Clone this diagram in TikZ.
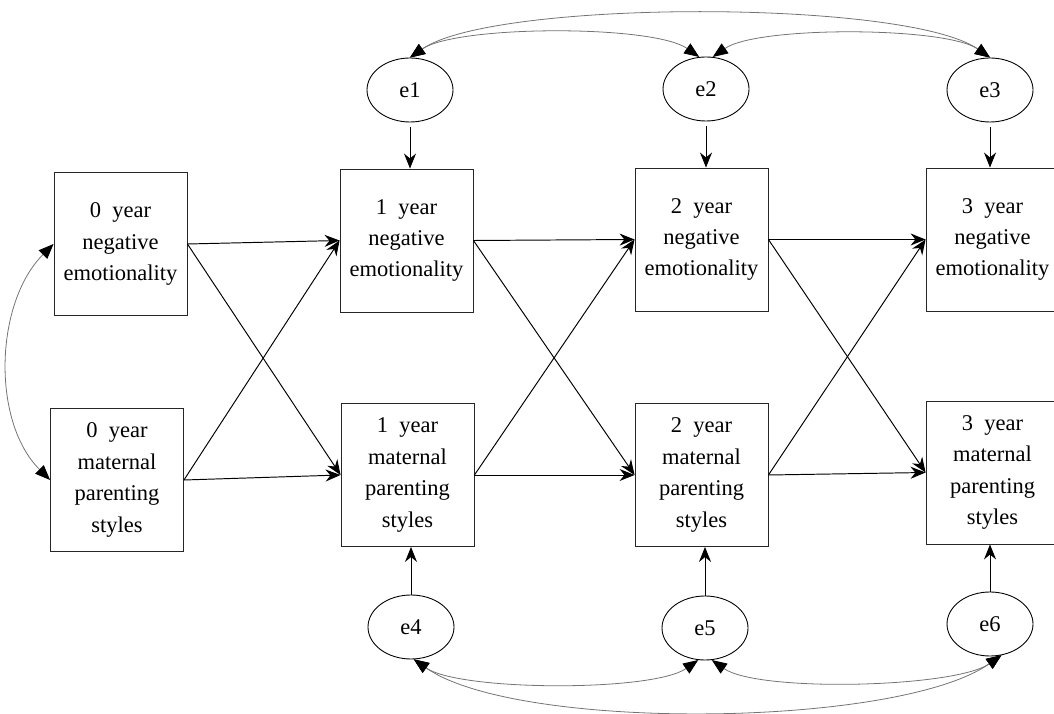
\documentclass[tikz,border=0pt]{standalone}
\usepackage{fontspec}
\setmainfont{Liberation Serif}
\usepackage{tikz}
\usetikzlibrary{arrows.meta}
\usetikzlibrary{shapes.geometric}
\tikzset{
    obs/.style={draw=black!85,line width=0.5pt,minimum width=2.66cm,minimum height=2.86cm,inner sep=0pt,align=center,font=\fontsize{12.8}{17.9}\selectfont},
    err/.style={draw,ellipse,line width=0.5pt,minimum width=1.72cm,minimum height=1.28cm,inner sep=0pt,font=\fontsize{12.8}{15}\selectfont},
    reg/.style={-{Stealth[length=0.3cm,width=0.24cm]},line width=0.55pt},
    cov/.style={{Triangle[length=0.3cm,width=0.24cm,color=black]}-{Triangle[length=0.3cm,width=0.24cm,color=black]},draw=black!55,line width=0.45pt}
}

\begin{document}
\begin{tikzpicture}[scale=1]
\useasboundingbox (0,0) rectangle (21.08,14.26);
\node[obs] (n0) at (2.41,9.38) {0~~year\\negative\\emotionality};
\node[obs] (m0) at (2.34,4.66) {0~~year\\maternal\\parenting\\styles};
\node[obs] (n1) at (8.13,9.45) {1~~year\\negative\\emotionality};
\node[obs] (m1) at (8.15,4.76) {1~~year\\maternal\\parenting\\styles};
\node[obs] (n2) at (14.03,9.47) {2~~year\\negative\\emotionality};
\node[obs] (m2) at (14.03,4.76) {2~~year\\maternal\\parenting\\styles};
\node[obs] (n3) at (19.85,9.47) {3~~year\\negative\\emotionality};
\node[obs] (m3) at (19.85,4.81) {3~~year\\maternal\\parenting\\styles};
\node[err] (e1) at (8.20,12.46) {e1};
\node[err] (e2) at (14.12,12.48) {e2};
\node[err] (e3) at (19.80,12.46) {e3};
\node[err] (e4) at (8.22,1.72) {e4};
\node[err] (e5) at (14.10,1.70) {e5};
\node[err] (e6) at (19.80,1.78) {e6};
\draw[reg] (n0.east) -- (n1.west);
\draw[reg] (n0.east) -- (m1.west);
\draw[reg] (m0.east) -- (n1.west);
\draw[reg] (m0.east) -- (m1.west);
\draw[reg] (n1.east) -- (n2.west);
\draw[reg] (n1.east) -- (m2.west);
\draw[reg] (m1.east) -- (n2.west);
\draw[reg] (m1.east) -- (m2.west);
\draw[reg] (n2.east) -- (n3.west);
\draw[reg] (n2.east) -- (m3.west);
\draw[reg] (m2.east) -- (n3.west);
\draw[reg] (m2.east) -- (m3.west);
\draw[reg,shorten <=0.1cm] (e1.south) -- (e1.south |- n1.north);
\draw[reg,shorten <=0.1cm] (e2.south) -- (e2.south |- n2.north);
\draw[reg,shorten <=0.1cm] (e3.south) -- (e3.south |- n3.north);
\draw[reg] (e4.north) -- (e4.north |- m1.south);
\draw[reg] (e5.north) -- (e5.north |- m2.south);
\draw[reg] (e6.north) -- (e6.north |- m3.south);
\draw[cov] (n0.west) to[out=225,in=135,looseness=0.9] (m0.west);
\draw[cov] (e2.102) to[out=145,in=35,looseness=0.5] (e1.north);
\draw[cov] (e3.north) to[out=145,in=35,looseness=0.5] (e2.78);
\draw[cov] (e3.north) to[out=145,in=35,looseness=0.45] (e1.north);
\draw[cov] (e4.-85) to[out=-35,in=-145,looseness=0.5] (e5.-102);
\draw[cov] (e5.-78) to[out=-35,in=-145,looseness=0.5] (e6.-70);
\draw[cov] (e4.-85) to[out=-35,in=-145,looseness=0.55] (e6.-70);
\end{tikzpicture}
\end{document}
